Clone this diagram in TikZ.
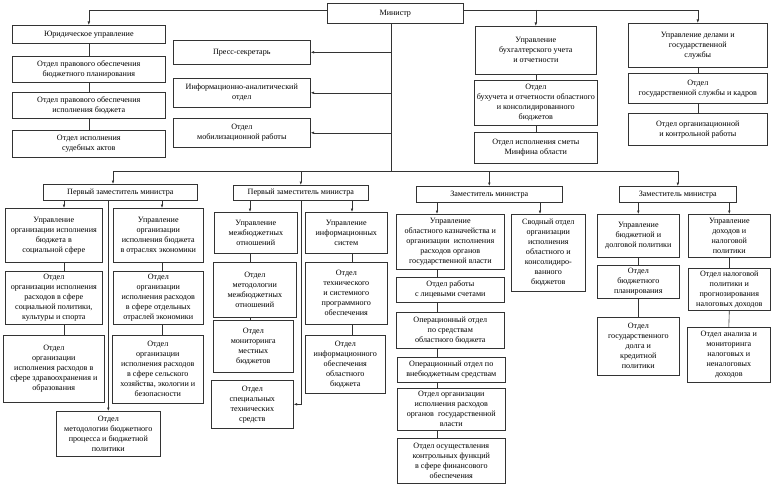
\documentclass[tikz,border=0pt]{standalone}
\usepackage{fontspec}
\setmainfont{Liberation Serif}
\usetikzlibrary{arrows.meta}
\newcommand\bx[6]{\node[box,anchor=north west,minimum width={(#4-#2)*1pt},minimum height={(#5-#3)*1pt}] (#1) at (#2,#3) {#6};}
\begin{document}
\begin{tikzpicture}[x=1pt,y=-1pt,
  box/.style={draw=black!80,line width=0.6pt,fill=white,inner xsep=1pt,inner ysep=0pt,align=center,font=\fontsize{8.1}{10}\selectfont},
  ln/.style={draw=black!80,line width=0.6pt},
  arr/.style={ln,-{Latex[length=3.5pt,width=2.6pt]}}]
\useasboundingbox[fill=white] (0,0) rectangle (775,495);
% top level
\bx{M}{327}{3}{463}{23}{Министр}
\bx{Jur}{12}{25}{165}{43}{Юридическое управление}
\bx{J2}{12}{56}{165}{82}{Отдел правового обеспечения\\бюджетного планирования}
\bx{J3}{12}{92}{165}{118}{Отдел правового обеспечения\\исполнения бюджета}
\bx{J4}{12}{130}{165}{157}{Отдел исполнения\\судебных актов}
\bx{Press}{173}{40}{310}{64}{Пресс-секретарь}
\bx{Info}{173}{78}{310}{107}{Информационно-аналитический\\отдел}
\bx{Mob}{173}{118}{310}{147}{Отдел\\мобилизационной работы}
\bx{Buh}{475}{26}{596}{74}{Управление\\бухгалтерского учета\\и отчетности}
\bx{Buh2}{474}{80}{597}{125}{Отдел\\бухучета и отчетности областного\\и консолидированного\\бюджетов}
\bx{Buh3}{474}{132}{597}{163}{Отдел исполнения сметы\\Минфина области}
\bx{Del}{628}{23}{767}{67}{Управление делами и\\государственной\\службы}
\bx{Del2}{628}{73}{767}{103}{Отдел\\государственной службы и кадров}
\bx{Del3}{628}{113}{767}{145}{Отдел организационной\\и контрольной работы}
% deputies
\bx{Z1}{43}{184}{197}{200}{Первый заместитель министра}
\bx{Z2}{233}{185}{368}{200}{Первый заместитель министра}
\bx{Z3}{416}{186}{562}{202}{Заместитель министра}
\bx{Z4}{619}{186}{736}{202}{Заместитель министра}
% column 1
\bx{A1}{5}{208}{102}{262}{Управление\\организации исполнения\\бюджета в\\социальной сфере}
\bx{B1}{113}{208}{203}{262}{Управление\\организации\\исполнения бюджета\\в отраслях экономики}
\bx{A2}{5}{271}{102}{324}{Отдел\\организации исполнения\\расходов в сфере\\социальной политики,\\культуры и спорта}
\bx{B2}{113}{271}{203}{324}{Отдел\\организации\\исполнения расходов\\в сфере отдельных\\отраслей экономики}
\bx{A3}{3}{335}{104}{402}{Отдел\\организации\\исполнения расходов в\\сфере здравоохранения и\\образования}
\bx{B3}{112}{335}{203}{403}{Отдел\\организации\\исполнения расходов\\в сфере сельского\\хозяйства, экологии и\\безопасности}
\bx{C}{56}{411}{160}{456}{Отдел\\методологии бюджетного\\процесса и бюджетной\\политики}
% column 2
\bx{D1}{214}{212}{297}{253}{Управление\\межбюджетных\\отношений}
\bx{E1}{305}{212}{387}{253}{Управление\\информационных\\систем}
\bx{D2}{213}{262}{296}{317}{Отдел\\методологии\\межбюджетных\\отношений}
\bx{E2}{305}{262}{387}{324}{Отдел\\технического\\и системного\\программного\\обеспечения}
\bx{D3}{213}{320}{293}{372}{Отдел\\мониторинга\\местных\\бюджетов}
\bx{E3}{305}{335}{385}{393}{Отдел\\информационного\\обеспечения\\областного\\бюджета}
\bx{D4}{211}{380}{293}{428}{Отдел\\специальных\\технических\\средств}
% column 3
\bx{F1}{396}{214}{504}{269}{Управление\\областного казначейства и\\организации \ исполнения\\расходов органов\\государственной власти}
\bx{G}{511}{214}{585}{291}{Сводный отдел\\организации\\исполнения\\областного и\\консолидиро-\\ванного\\бюджетов}
\bx{F2}{396}{277}{504}{302}{Отдел работы\\с лицевыми счетами}
\bx{F3}{396}{312}{504}{348}{Операционный отдел\\по средствам\\областного бюджета}
\bx{F4}{397}{357}{505}{382}{Операционный отдел по\\внебюджетным средствам}
\bx{F5}{397}{388}{505}{430}{Отдел организации\\исполнения расходов\\органов \ государственной\\власти}
\bx{F6}{397}{438}{505}{483}{Отдел осуществления\\контрольных функций\\в сфере финансового\\обеспечения}
% column 4
\bx{H1}{597}{214}{679}{257}{Управление\\бюджетной и\\долговой политики}
\bx{I1}{688}{214}{770}{257}{Управление\\доходов и\\налоговой\\политики}
\bx{H2}{597}{265}{679}{298}{Отдел\\бюджетного\\планирования}
\bx{I2}{688}{268}{770}{310}{Отдел налоговой\\политики и\\прогнозирования\\налоговых доходов}
\bx{H3}{597}{317}{679}{375}{Отдел\\государственного\\долга и\\кредитной\\политики}
\bx{I3}{687}{327}{770}{382}{Отдел анализа и\\мониторинга\\налоговых и\\неналоговых\\доходов}
% helper coordinates
\coordinate (ty) at (0,10);
\coordinate (mx) at (391,0);
\coordinate (bus) at (0,171);
\coordinate (z1x) at (113,0);
\coordinate (xa) at (64,0);
\coordinate (xb) at (162,0);
\coordinate (xd) at (250,0);
\coordinate (xe) at (352,0);
\coordinate (xf) at (437,0);
\coordinate (xg) at (540,0);
% minister connectors
\draw[arr] (M.west |- ty) -| (Jur.north);
\draw[arr] (M.east |- ty) -| (Del.north);
\draw[arr] (ty -| Buh.north) -- (Buh.north);
\draw[ln] (M.south -| mx) -- (mx |- bus);
\draw[arr] (Press.east -| mx) -- (Press.east);
\draw[arr] (Info.east -| mx) -- (Info.east);
\draw[arr] (Mob.east -| mx) -- (Mob.east);
\draw[ln] (Jur.south) -- (J2.north);
\draw[ln] (J2.south) -- (J3.north);
\draw[ln] (J3.south) -- (J4.north);
\draw[ln] (Buh.south) -- (Buh2.north);
\draw[ln] (Buh2.south) -- (Buh3.north);
\draw[ln] (Del.south) -- (Del2.north);
\draw[ln] (Del2.south) -- (Del3.north);
% bus
\draw[ln] (bus -| z1x) -- (bus -| Z4.north);
\draw[arr] (bus -| z1x) -- (Z1.north -| z1x);
\draw[arr] (bus -| Z2.north) -- (Z2.north);
\draw[arr] (bus -| Z3.north) -- (Z3.north);
\draw[arr] (bus -| Z4.north) -- (Z4.north);
% column 1
\draw[arr] (Z1.south -| xa) -- (A1.north -| xa);
\draw[arr] (Z1.south -| xb) -- (B1.north -| xb);
\draw[arr] (Z1.south -| C.north) -- (C.north);
\draw[ln] (A1.south -| xa) -- (A2.north -| xa);
\draw[ln] (A2.south -| xa) -- (A3.north -| xa);
\draw[ln] (B1.south -| xb) -- (B2.north -| xb);
\draw[ln] (B2.south -| xb) -- (B3.north -| xb);
% column 2
\draw[arr] (Z2.south -| xd) -- (D1.north -| xd);
\draw[arr] (Z2.south -| xe) -- (E1.north -| xe);
\draw[arr] (Z2.south) |- (D4.east);
\draw[ln] (D1.south -| xd) -- (D2.north -| xd);
\draw[ln] (D2.south -| xd) -- (D3.north -| xd);
\draw[ln] (E1.south -| xe) -- (E2.north -| xe);
\draw[ln] (E2.south -| xe) -- (E3.north -| xe);
% column 3
\draw[arr] (Z3.south -| xf) -- (F1.north -| xf);
\draw[arr] (Z3.south -| xg) -- (G.north -| xg);
\draw[ln] (F1.south -| xf) -- (F2.north -| xf);
\draw[ln] (F2.south -| xf) -- (F3.north -| xf);
\draw[ln] (F3.south -| xf) -- (F4.north -| xf);
\draw[ln] (F4.south -| xf) -- (F5.north -| xf);
\draw[ln] (F5.south -| xf) -- (F6.north -| xf);
% column 4
\draw[arr] (Z4.south -| H1.north) -- (H1.north);
\draw[arr] (Z4.south -| I1.north) -- (I1.north);
\draw[ln] (H1.south) -- (H2.north);
\draw[ln] (H2.south) -- (H3.north);
\draw[ln] (I1.south) -- (I2.north);
\draw[ln] (I2.south) -- (I3.north);
\end{tikzpicture}
\end{document}
